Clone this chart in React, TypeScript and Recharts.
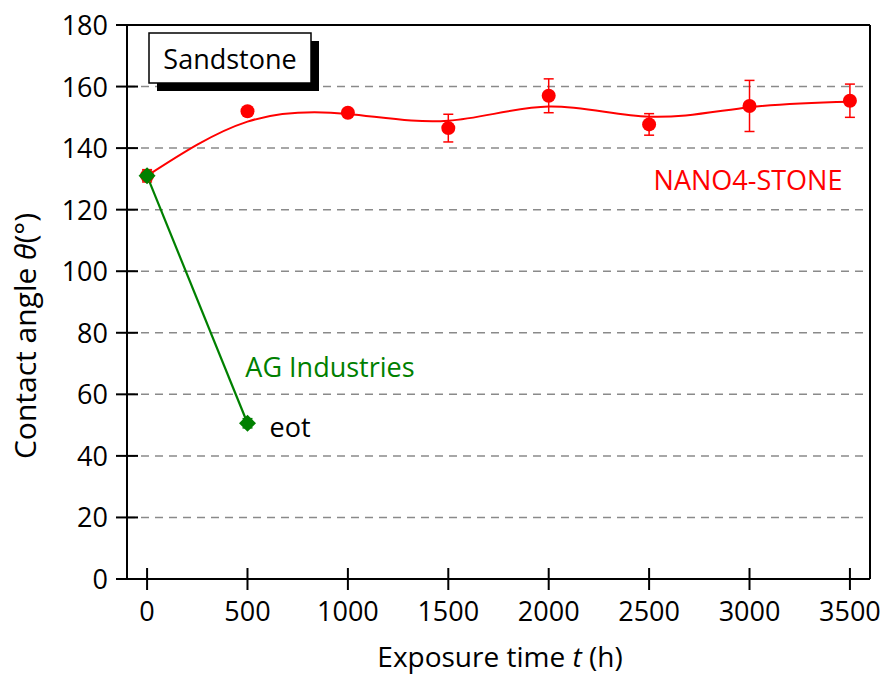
import React from 'react';
import {
  ComposedChart, XAxis, YAxis, CartesianGrid, Line, Scatter, ErrorBar, ReferenceLine,
} from 'recharts';

// ---- data ----
const exposureHours = [0, 500, 1000, 1500, 2000, 2500, 3000, 3500];
const nanoAngle = [131, 152, 151.5, 146.5, 157, 147.7, 153.7, 155.4];
const nanoErr = [2, 1, 1, 4.5, 5.5, 3.5, 8.3, 5.4];
const nanoFitAngle = [131, 148.6, 151.1, 148.9, 153.5, 150.2, 153.3, 155.1];
const agHours = [0, 500];
const agAngle = [131, 50.6];
const agErr = [1.5, 1.5];
const xTicks = [0, 500, 1000, 1500, 2000, 2500, 3000, 3500];
const yTicks = [0, 20, 40, 60, 80, 100, 120, 140, 160, 180];

const nanoPts = exposureHours.map((x, i) => ({ x, y: nanoAngle[i], err: nanoErr[i] }));
const nanoFit = exposureHours.map((x, i) => ({ x, y: nanoFitAngle[i] }));
const agPts = agHours.map((x, i) => ({ x, y: agAngle[i], err: agErr[i] }));

// ---- layout ----
const W = 884;
const H = 675;
const PLOT_LEFT = 127;
const PLOT_TOP = 25;
const PLOT_BOTTOM = 579;
const PLOT_RIGHT = 870;
const FONT = '"Open Sans", sans-serif';
const RED = '#ff0000';
const GREEN = '#008000';

const XTick = (props: any) => {
  const { x, payload } = props;
  return (
    <g>
      <line x1={x} x2={x} y1={PLOT_BOTTOM - 11} y2={PLOT_BOTTOM + 11} stroke="#000" strokeWidth={2} />
      <text x={x} y={PLOT_BOTTOM + 42} textAnchor="middle" fontSize={27} fontFamily={FONT} fill="#000">
        {payload.value}
      </text>
    </g>
  );
};

const YTick = (props: any) => {
  const { y, payload } = props;
  return (
    <g>
      <line x1={PLOT_LEFT - 11} x2={PLOT_LEFT + 11} y1={y} y2={y} stroke="#000" strokeWidth={2} />
      <text x={PLOT_LEFT - 19} y={y + 10} textAnchor="end" fontSize={27} fontFamily={FONT} fill="#000">
        {payload.value}
      </text>
    </g>
  );
};

const RedDot = (props: any) => {
  const { cx, cy } = props;
  if (cx == null || cy == null) return <g />;
  return <circle cx={cx} cy={cy} r={7} fill={RED} />;
};

const GreenDiamond = (props: any) => {
  const { cx, cy } = props;
  if (cx == null || cy == null) return <g />;
  const s = 8.5;
  return (
    <polygon
      points={`${cx},${cy - s} ${cx + s},${cy} ${cx},${cy + s} ${cx - s},${cy}`}
      fill={GREEN}
    />
  );
};

export default function App() {
  return (
    <div style={{ position: 'absolute', left: 0, top: 0, width: W, height: H, background: '#fff', fontFamily: FONT }}>
      <ComposedChart
        width={W}
        height={H}
        margin={{ top: PLOT_TOP, right: W - PLOT_RIGHT, bottom: 0, left: 0 }}
      >
        <CartesianGrid vertical={false} stroke="#8a8a8a" strokeDasharray="8 6" strokeWidth={1.5} />
        <XAxis
          type="number"
          dataKey="x"
          domain={[-100, 3600]}
          ticks={xTicks}
          allowDataOverflow
          height={H - PLOT_BOTTOM}
          tickLine={false}
          axisLine={{ stroke: '#000', strokeWidth: 2 }}
          tick={<XTick />}
        />
        <YAxis
          type="number"
          dataKey="y"
          domain={[0, 180]}
          ticks={yTicks}
          allowDataOverflow
          width={PLOT_LEFT}
          tickLine={false}
          axisLine={{ stroke: '#000', strokeWidth: 2 }}
          tick={<YTick />}
        />
        <ReferenceLine y={180} stroke="#000" strokeWidth={2} ifOverflow="visible" />
        <ReferenceLine x={3600} stroke="#000" strokeWidth={2} ifOverflow="visible" />
        <Line
          data={nanoFit}
          dataKey="y"
          type="natural"
          stroke={RED}
          strokeWidth={2}
          dot={false}
          activeDot={false}
          isAnimationActive={false}
        />
        <Scatter data={nanoPts} dataKey="y" fill={RED} shape={<RedDot />} isAnimationActive={false}>
          <ErrorBar dataKey="err" direction="y" width={5} stroke={RED} strokeWidth={1.5} isAnimationActive={false} />
        </Scatter>
        <Line
          data={agPts}
          dataKey="y"
          type="linear"
          stroke={GREEN}
          strokeWidth={2.2}
          dot={false}
          activeDot={false}
          isAnimationActive={false}
        />
        <Scatter data={agPts} dataKey="y" fill={GREEN} shape={<GreenDiamond />} isAnimationActive={false}>
          <ErrorBar dataKey="err" direction="y" width={5} stroke={GREEN} strokeWidth={1.5} isAnimationActive={false} />
        </Scatter>
      </ComposedChart>
      <svg
        width={W}
        height={H}
        style={{ position: 'absolute', left: 0, top: 0, pointerEvents: 'none' }}
        fontFamily={FONT}
      >
        <rect x={157} y={41} width={162} height={50} fill="#000" />
        <rect x={149} y={33} width={162} height={50} fill="#fff" stroke="#000" strokeWidth={1.5} />
        <text x={230} y={69} textAnchor="middle" fontSize={27} fill="#000">Sandstone</text>
        <text x={748} y={190} textAnchor="middle" fontSize={27} fill={RED}>NANO4-STONE</text>
        <text x={330} y={377} textAnchor="middle" fontSize={27} fill={GREEN}>AG Industries</text>
        <text x={290} y={437} textAnchor="middle" fontSize={27} fill="#000">eot</text>
        <text x={500} y={667} textAnchor="middle" fontSize={28} fill="#000">
          Exposure time <tspan fontStyle="italic">t</tspan> (h)
        </text>
        <text
          x={36}
          y={336}
          textAnchor="middle"
          fontSize={30}
          fill="#000"
          transform="rotate(-90 36 336)"
        >
          Contact angle <tspan fontStyle="italic">θ</tspan>(°)
        </text>
      </svg>
    </div>
  );
}
